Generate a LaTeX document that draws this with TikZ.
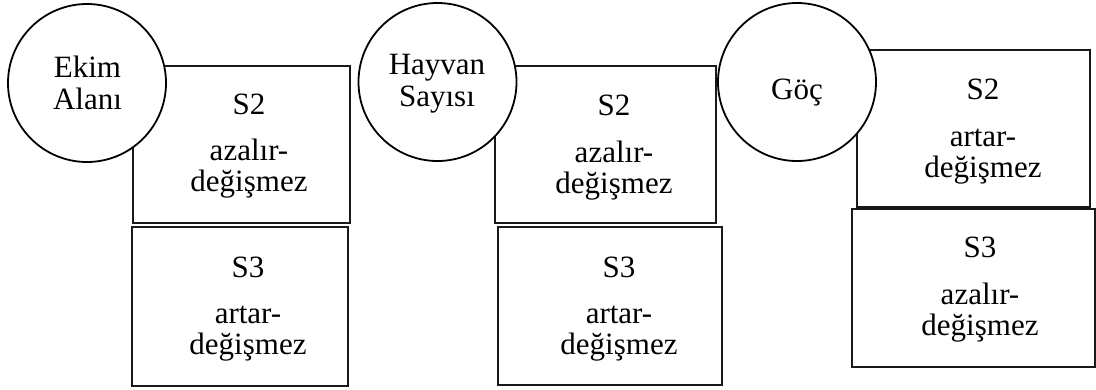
\documentclass[tikz,border=0pt]{standalone}
\usepackage{fontspec}
\setmainfont{Liberation Serif}
\begin{document}
\begin{tikzpicture}[x=1pt,y=-1pt,
  factor/.style={circle,draw=black,line width=1.8pt,fill=white,minimum size=158pt,inner sep=0pt},
  factortext/.style={align=center,inner sep=0pt,font=\fontsize{31}{32}\selectfont},
  period/.style={rectangle,draw=black!90,line width=1.8pt,inner sep=0pt},
  periodtext/.style={align=center,inner sep=0pt,font=\fontsize{31}{31}\selectfont}]
\useasboundingbox (0,0) rectangle (1096,389);

% period boxes: S2 above S3 for each factor
\node[period,minimum width=217pt,minimum height=157pt] (ekimS2) at (241.5,144.5) {};
\node[period,minimum width=216pt,minimum height=159pt] (ekimS3) at (240,306.5) {};
\node[period,minimum width=221pt,minimum height=157pt] (hayvanS2) at (605.5,144.5) {};
\node[period,minimum width=224pt,minimum height=158pt] (hayvanS3) at (610,306) {};
\node[period,minimum width=233pt,minimum height=157pt] (gocS2) at (973.5,128.5) {};
\node[period,minimum width=243pt,minimum height=158pt] (gocS3) at (973.5,288) {};

% box contents
\node[periodtext] (ekimS2t) at (249,146.5) {S2\\[15pt]azalır-\\değişmez};
\node[periodtext] (ekimS3t) at (248,309) {S3\\[15pt]artar-\\değişmez};
\node[periodtext] (hayvanS2t) at (614,147.5) {S2\\[16pt]azalır-\\değişmez};
\node[periodtext] (hayvanS3t) at (619,309) {S3\\[15pt]artar-\\değişmez};
\node[periodtext] (gocS2t) at (983,131.5) {S2\\[16pt]artar-\\değişmez};
\node[periodtext] (gocS3t) at (980,290) {S3\\[16pt]azalır-\\değişmez};

% factor circles drawn over the box corners
\node[factor] (ekim) at (87,83) {};
\node[factor] (hayvan) at (437.5,82) {};
\node[factor] (goc) at (797,82) {};

\node[factortext] (ekimt) at (87.5,83) {Ekim\\Alanı};
\node[factortext] (hayvant) at (437,84) {Hayvan\\Sayısı};
\node[factortext] (goct) at (797,93) {Göç};
\end{tikzpicture}
\end{document}
